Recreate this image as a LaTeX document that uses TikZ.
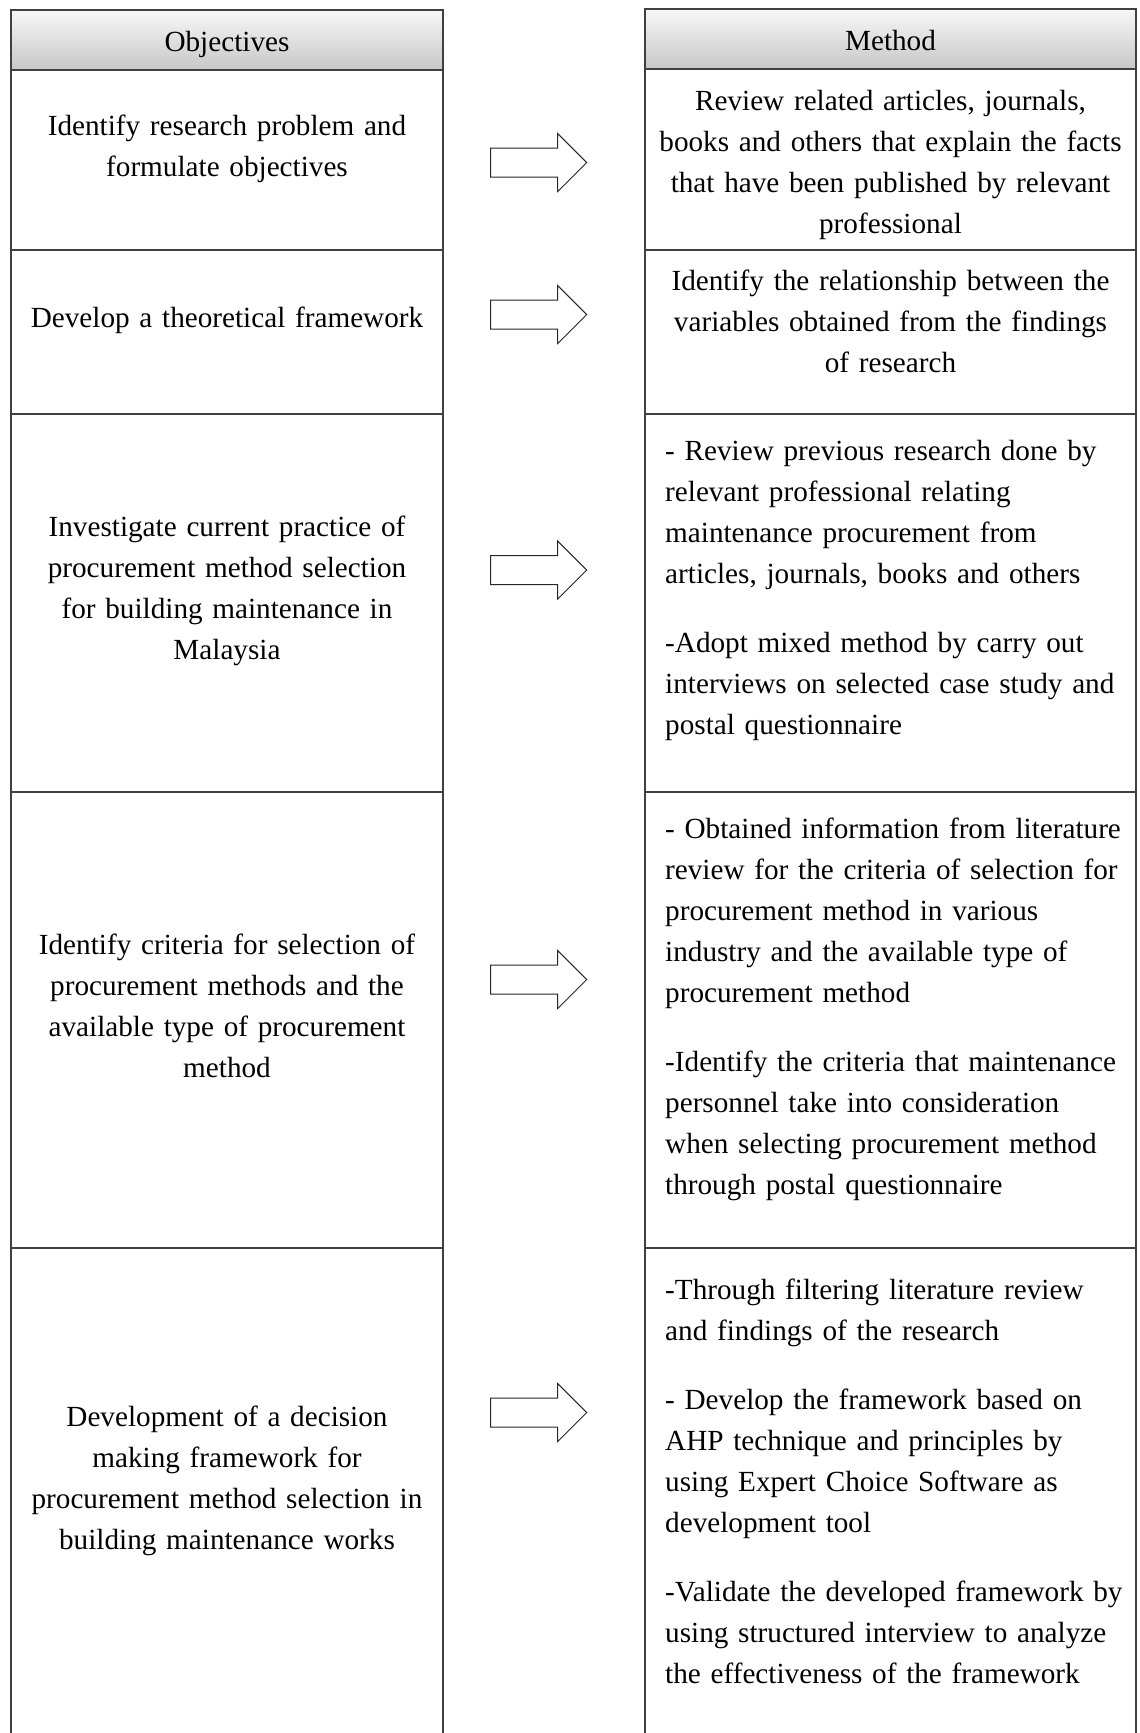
\documentclass[tikz,border=0pt]{standalone}
\usepackage{fontspec}
\setmainfont{Liberation Serif}
\newcommand\bodyfont{\fontsize{29.2}{41}\selectfont}
\tikzset{
  rule/.style={draw=black!75, line width=1.2pt},
  hdr/.style={rule, top color=black!3, bottom color=black!22,
    minimum height=60pt, inner sep=0pt, text height=27pt, text depth=4pt,
    font=\bodyfont},
  ctext/.style={anchor=base, inner sep=0pt, text width=440pt, align=center,
    font=\bodyfont},
  wtext/.style={ctext, text width=484pt},
  ltext/.style={anchor=base west, inner sep=0pt, text width=472pt, align=left,
    font=\bodyfont},
  arrowline/.style={draw=black!85, line width=1pt, fill=white},
  blockarrow/.pic={
    \draw[arrowline] (-48,-14.5) -- (19,-14.5) -- (19,-29) -- (48,0)
      -- (19,29) -- (19,14.5) -- (-48,14.5) -- cycle;
  }
}
\begin{document}
\begin{tikzpicture}[x=1pt, y=-1pt]
  \useasboundingbox (0,0) rectangle (1140,1733);

  % column frames (open at the foot)
  \draw[rule] (11,1745) -- (11,70) (443,70) -- (443,1745);
  \draw[rule] (645,1745) -- (645,69) (1136,69) -- (1136,1745);
  % row separators
  \foreach \y in {250,414,792,1248} {
    \draw[rule] (11,\y) -- (443,\y);
    \draw[rule] (645,\y) -- (1136,\y);
  }

  % column headers
  \node[hdr, minimum width=432pt] (hobj) at (227,40) {Objectives};
  \node[hdr, minimum width=491pt] (hmeth) at (890.5,39) {Method};

  % objectives
  \node[ctext] (o1) at (227,135.5) {Identify research problem and\\formulate objectives};
  \node[ctext] (o2) at (227,327.5) {Develop a theoretical framework};
  \node[ctext] (o3) at (227,536.5) {Investigate current practice of\\procurement method selection\\for building maintenance in\\Malaysia};
  \node[ctext] (o4) at (227,954) {Identify criteria for selection of\\procurement methods and the\\available type of procurement\\method};
  \node[ctext] (o5) at (227,1426) {Development of a decision\\making framework for\\procurement method selection in\\building maintenance works};

  % methods
  \node[wtext] (m1) at (890.5,110.7) {Review related articles, journals,\\books and others that explain the facts\\that have been published by relevant\\professional};
  \node[wtext] (m2) at (890.5,290.5) {Identify the relationship between the\\variables obtained from the findings\\of research};
  \node[ltext] (m3) at (665,460) {- Review previous research done by\\relevant professional relating\\maintenance procurement from\\articles, journals, books and others\\[28pt]-Adopt mixed method by carry out\\interviews on selected case study and\\postal questionnaire};
  \node[ltext] (m4) at (665,838) {- Obtained information from literature\\review for the criteria of selection for\\procurement method in various\\industry and the available type of\\procurement method\\[28pt]-Identify the criteria that maintenance\\personnel take into consideration\\when selecting procurement method\\through postal questionnaire};
  \node[ltext] (m5) at (665,1299) {-Through filtering literature review\\and findings of the research\\[28pt]- Develop the framework based on\\AHP technique and principles by\\using Expert Choice Software as\\development tool\\[28pt]-Validate the developed framework by\\using structured interview to analyze\\the effectiveness of the framework};

  % block arrows from objective to method
  \foreach \y in {162.5,314.5,570,979.5,1412.5} {
    \pic at (538.7,\y) {blockarrow};
  }
\end{tikzpicture}
\end{document}
